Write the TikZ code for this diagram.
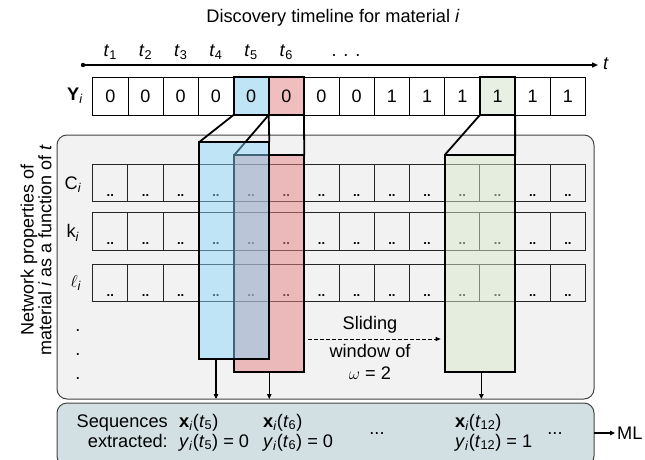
\documentclass[tikz,border=0pt]{standalone}
\usepackage{fontspec}
\setmainfont{Liberation Sans}
\usetikzlibrary{arrows.meta,calc}
\definecolor{boxgray}{RGB}{242,242,242}
\definecolor{seqfill}{RGB}{210,224,228}
\definecolor{edgegray}{RGB}{68,68,68}
\definecolor{cblue}{RGB}{190,228,246}
\definecolor{cred}{RGB}{240,190,190}
\definecolor{cgreen}{RGB}{232,240,228}
\definecolor{wblue}{RGB}{134,213,250}
\definecolor{wred}{RGB}{230,130,130}
\definecolor{wgreen}{RGB}{218,234,204}
\newcommand\itsub{\textsubscript{\textit{i}}}
\begin{document}
\begin{tikzpicture}[x=1pt,y=-1pt,
  txt/.style={font=\fontsize{18.2}{20}\selectfont, inner sep=0pt},
  ycell/.style={draw=black, minimum width=35.2pt, minimum height=37.7pt, inner sep=0pt, outer sep=0pt, font=\fontsize{18}{20}\selectfont},
  pcell/.style={draw=black!85, line width=1pt, minimum width=35.2pt, minimum height=37.5pt, inner sep=0pt, outer sep=0pt},
  dd/.style={font=\fontsize{13}{13}\selectfont\bfseries, inner sep=0pt},
  win/.style={draw=black, line width=2pt, inner sep=0pt, outer sep=0pt, anchor=north west},
  link/.style={line width=1.8pt},
  down/.style={-{Triangle[length=5pt,width=4.5pt]}, line width=1.1pt},
  panel/.style={draw=edgegray, line width=1pt, rounded corners=10pt, inner sep=0pt, outer sep=0pt, anchor=north west},
]
\useasboundingbox (0,0) rectangle (645,460);

% panels
\node[panel, fill=boxgray, minimum width=537pt, minimum height=264pt] (netbox) at (57,135) {};
\node[panel, fill=seqfill, minimum width=537pt, minimum height=63pt] (seqbox) at (57,403) {};

% title and timeline
\node[txt] (title) at (333,18) {Discovery timeline for material \textit{i}};
\foreach \k in {1,...,6}
  \node[txt, anchor=base] (t\k) at ({75.1+35.2*\k},57) {\textit{t}\textsubscript{\k}};
\node[txt, anchor=base] (tdots) at (346,57) {. . .};
\coordinate (tl0) at (83,65);
\node[txt, anchor=west] (tlab) at (603,64) {\textit{t}};
\fill (tl0) circle (2.2pt);
\draw[line width=1.4pt, -{Triangle[length=6pt,width=5pt]}, shorten >=5pt] (tl0) -- (tl0 -| tlab.west);

% Y row
\node[txt] (ylab) at (75,96) {\textbf{Y}\itsub};
\foreach \v/\f/\w [count=\k] in {0/none/0.8,0/none/0.8,0/none/0.8,0/none/0.8,0/cblue/2,0/cred/2,0/none/0.8,0/none/0.8,1/none/0.8,1/none/0.8,1/none/0.8,1/cgreen/2,1/none/0.8,1/none/0.8}
  \node[ycell, fill=\f, line width=\w pt] (y\k) at ({75.1+35.2*\k},96.15) {\v};

% property rows
\node[txt] (lc) at (73,185) {C\itsub};
\node[txt] (lk) at (73,233) {k\itsub};
\node[txt] (ll) at (76,283) {$\ell$\itsub};
\foreach \r/\yy in {1/183,2/231.65,3/282.85}
  \foreach \k in {1,...,14} {
    \node[pcell] (p\r-\k) at ({75.1+35.2*\k},\yy) {};
    \node[dd, anchor=base] (d\r-\k) at ([yshift=5.5pt]p\r-\k.south) {..};
  }
\node[txt] (v1) at (78,331) {.};
\node[txt] (v2) at (78,355) {.};
\node[txt] (v3) at (78,379) {.};
\node[txt, rotate=90, align=center, font=\fontsize{18}{16.5}\selectfont] (side) at (36,250)
  {Network properties of\\material \textit{i} as a function of \textit{t}};

% windows
\node[win, fill=wred, fill opacity=0.5, minimum width=70pt, minimum height=216.7pt] (rw) at (234.3,155) {};
\node[win, fill=wgreen, fill opacity=0.5, minimum width=70.4pt, minimum height=216.7pt] (gw) at (444.7,155) {};
\draw[link] (y6.south west) -- (rw.north west);
\draw[link] (y6.south east) -- (rw.north east);
\node[win, fill=wblue, fill opacity=0.48, minimum width=70pt, minimum height=217.3pt] (bw) at (199.3,142) {};
\draw[link] (y5.south west) -- (bw.north west);
\draw[link] (y5.south east) -- (bw.north east);
\draw[link] (y12.south west) -- (gw.north west);
\draw[link] (y12.south east) -- (gw.north east);

% down arrows
\coordinate (ab) at ([xshift=-18.3pt]bw.south);
\coordinate (ag) at ([xshift=1.5pt]gw.south);
\draw[down] (ab) -- (ab |- netbox.south);
\draw[down] (rw.south) -- (rw.south |- netbox.south);
\draw[down] (ag) -- (ag |- netbox.south);

% sliding window
\node[txt] (s1) at (370,325) {Sliding};
\node[txt] (s2) at (370,351) {window of};
\node[txt] (s3) at (370,373) {$\omega$ = 2};
\coordinate (slide) at (370,339);
\coordinate (sa) at ([xshift=4pt]rw.east);
\coordinate (sb) at ([xshift=-4pt]gw.west);
\draw[dashed, dash pattern=on 3.5pt off 2.5pt, line width=0.8pt, -{Triangle[length=5pt,width=4pt]}] (sa |- slide) -- (sb |- slide);

% sequences
\node[txt, anchor=base east] (q1) at (168,427) {Sequences};
\node[txt, anchor=base east] (q2) at (168,447) {extracted:};
\node[txt, anchor=base west] (x5) at (179,427) {\textbf{x}\itsub(\textit{t}\textsubscript{5})};
\node[txt, anchor=base west] (yv5) at (179,447) {\textit{y}\itsub(\textit{t}\textsubscript{5}) = 0};
\node[txt, anchor=base west] (x6) at (263,427) {\textbf{x}\itsub(\textit{t}\textsubscript{6})};
\node[txt, anchor=base west] (yv6) at (263,447) {\textit{y}\itsub(\textit{t}\textsubscript{6}) = 0};
\node[txt, anchor=base west] (x12) at (455,427) {\textbf{x}\itsub(\textit{t}\textsubscript{12})};
\node[txt, anchor=base west] (yv12) at (455,447) {\textit{y}\itsub(\textit{t}\textsubscript{12}) = 1};
\node[txt, anchor=base] (e1) at (377,434.5) {...};
\node[txt, anchor=base] (e2) at (555,434.5) {...};
\node[txt, anchor=west] (ml) at (617,433) {ML};
\draw[down, shorten >=2pt] (seqbox.east |- ml.west) -- (ml.west);
\end{tikzpicture}
\end{document}
